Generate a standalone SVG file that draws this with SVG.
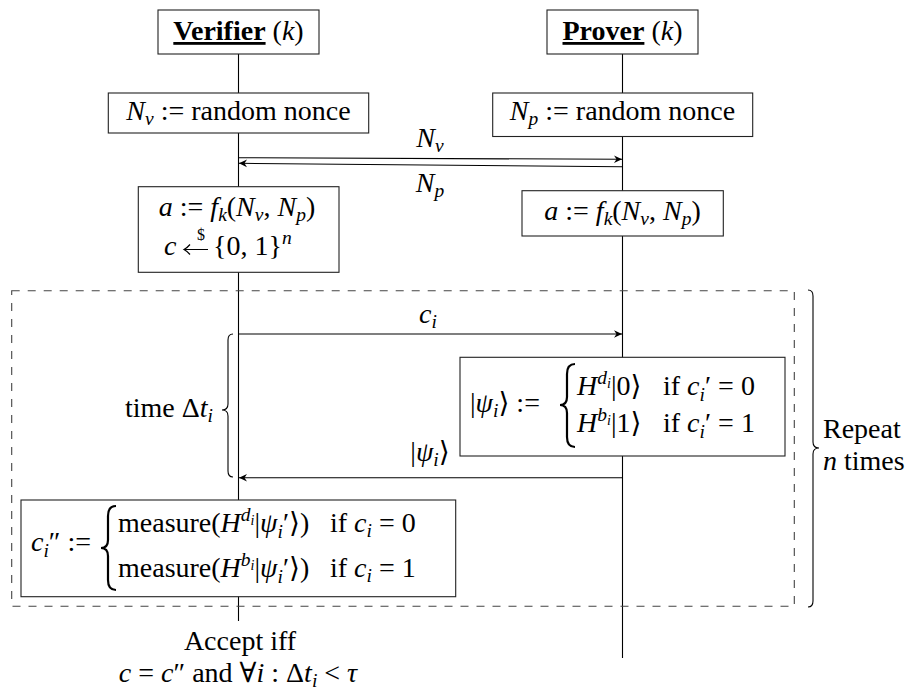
<svg xmlns="http://www.w3.org/2000/svg" width="922" height="692" viewBox="0 0 922 692" font-family="'Liberation Serif', 'DejaVu Serif', serif">
<style>
.t{font-family:'Liberation Serif','DejaVu Serif',serif;font-size:28px;fill:#000}
.i{font-style:italic}
.b{font-weight:bold}
.s{font-size:19.5px}
.ss{font-size:14px}
.box{fill:#fff;stroke:#222;stroke-width:1.1}
.life{stroke:#000;stroke-width:1.1;fill:none}
.msg{stroke:#000;stroke-width:1.1;fill:none;marker-end:url(#arr)}
.brace{fill:none;stroke:#000;stroke-width:1.1}
.cbrace{fill:none;stroke:#000;stroke-width:2.2}
.loop{fill:none;stroke:#444;stroke-width:1.1;stroke-dasharray:8 8}
</style>
<defs>
<marker id="arr" markerUnits="userSpaceOnUse" markerWidth="12" markerHeight="10" viewBox="-9 -5 10 10" refX="0" refY="0" orient="auto">
<path d="M0,0 L-8,-3.8 L-5.5,0 L-8,3.8 Z" fill="#000"/>
</marker>
</defs>
<rect width="922" height="692" fill="#fff"/>

<g id="connectors">
<line class="life" x1="238.5" y1="54" x2="238.5" y2="621"/>
<line class="life" x1="622.5" y1="54" x2="622.5" y2="658"/>
<line class="msg" x1="238.5" y1="157.7" x2="622" y2="159.3"/>
<line class="msg" x1="622.5" y1="166.7" x2="239" y2="163.3"/>
<line class="msg" x1="238.5" y1="334" x2="622" y2="334"/>
<line class="msg" x1="622.5" y1="477.7" x2="239" y2="477.7"/>
</g>

<g id="labels">
<text class="t" x="430" y="147" text-anchor="middle"><tspan class="i">N</tspan><tspan class="i s" dy="5">v</tspan></text>
<text class="t" x="430" y="192" text-anchor="middle"><tspan class="i">N</tspan><tspan class="i s" dy="5">p</tspan></text>
<text class="t" x="428" y="323" text-anchor="middle"><tspan class="i">c</tspan><tspan class="i s" dy="5">i</tspan></text>
<text class="t" x="430" y="461" text-anchor="middle">|<tspan class="i">ψ</tspan><tspan class="i s" dy="5">i</tspan><tspan dy="-5">⟩</tspan></text>
</g>

<g id="loop">
<rect class="loop" x="11.7" y="290.7" width="782.6" height="315.6"/>
</g>

<g id="verifier">
<rect class="box" x="158" y="10" width="161" height="44"/>
<text class="t" x="238.5" y="40" text-anchor="middle"><tspan class="b" text-decoration="underline">Verifier</tspan> (<tspan class="i">k</tspan>)</text>
</g>
<g id="prover">
<rect class="box" x="547" y="10" width="151" height="44"/>
<text class="t" x="622.5" y="40" text-anchor="middle"><tspan class="b" text-decoration="underline">Prover</tspan> (<tspan class="i">k</tspan>)</text>
</g>

<g id="nv">
<rect class="box" x="108.3" y="93" width="260.4" height="40"/>
<text class="t" x="238.5" y="120" text-anchor="middle"><tspan class="i">N</tspan><tspan class="i s" dy="5">v</tspan><tspan dy="-5"> := random nonce</tspan></text>
</g>
<g id="np">
<rect class="box" x="492.7" y="93" width="260" height="43.5"/>
<text class="t" x="622.5" y="120" text-anchor="middle"><tspan class="i">N</tspan><tspan class="i s" dy="5">p</tspan><tspan dy="-5"> := random nonce</tspan></text>
</g>

<g id="va">
<rect class="box" x="138.3" y="186.7" width="200.7" height="85.6"/>
<text class="t" x="237" y="216" text-anchor="middle"><tspan class="i">a</tspan> := <tspan class="i">f</tspan><tspan class="i s" dy="5">k</tspan><tspan dy="-5">(</tspan><tspan class="i">N</tspan><tspan class="i s" dy="5">v</tspan><tspan dy="-5">, </tspan><tspan class="i">N</tspan><tspan class="i s" dy="5">p</tspan><tspan dy="-5">)</tspan></text>
<text class="t i" x="164" y="255">c</text>
<path d="M208,249.5 L185,249.5 M190,244.5 Q187,248 184,249.5 Q187,251 190,254.5" fill="none" stroke="#000" stroke-width="1.2"/>
<text class="t" x="201" y="240" text-anchor="middle" style="font-size:16px">$</text>
<text class="t" y="255"><tspan x="213">{0, 1}</tspan><tspan class="i s" dy="-11">n</tspan></text>
</g>
<g id="pa">
<rect class="box" x="522" y="190.7" width="201.3" height="45.3"/>
<text class="t" x="622.5" y="220" text-anchor="middle"><tspan class="i">a</tspan> := <tspan class="i">f</tspan><tspan class="i s" dy="5">k</tspan><tspan dy="-5">(</tspan><tspan class="i">N</tspan><tspan class="i s" dy="5">v</tspan><tspan dy="-5">, </tspan><tspan class="i">N</tspan><tspan class="i s" dy="5">p</tspan><tspan dy="-5">)</tspan></text>
</g>

<g id="time">
<path class="brace" d="M233,334 Q228,334 228,340 L228,404 Q228,410 222,410 Q228,410 228,416 L228,471 Q228,477 233,477"/>
<text class="t" x="213" y="417" text-anchor="end">time Δ<tspan class="i">t</tspan><tspan class="i s" dy="5">i</tspan></text>
</g>

<g id="psi">
<rect class="box" x="460" y="357.3" width="325" height="98.7"/>
<text class="t" x="470" y="412">|<tspan class="i">ψ</tspan><tspan class="i s" dy="5">i</tspan><tspan dy="-5">⟩ :=</tspan></text>
<path class="cbrace" d="M575,364 Q567,364 567,374 L567,397 Q567,405 560,405 Q567,405 567,413 L567,437 Q567,447 575,447"/>
<text class="t" x="577" y="395"><tspan class="i">H</tspan><tspan class="i s" dy="-11">d</tspan><tspan class="i ss" dy="4">i</tspan><tspan dy="7">|0⟩</tspan></text>
<text class="t" x="663" y="395">if <tspan class="i">c</tspan><tspan class="i s" dy="6">i</tspan><tspan dy="-6">′ = 0</tspan></text>
<text class="t" x="577" y="432"><tspan class="i">H</tspan><tspan class="i s" dy="-11">b</tspan><tspan class="i ss" dy="4">i</tspan><tspan dy="7">|1⟩</tspan></text>
<text class="t" x="663" y="432">if <tspan class="i">c</tspan><tspan class="i s" dy="6">i</tspan><tspan dy="-6">′ = 1</tspan></text>
</g>

<g id="measure">
<rect class="box" x="21" y="500" width="434.7" height="96.7"/>
<text class="t" x="31" y="551"><tspan class="i">c</tspan><tspan class="i s" dy="6">i</tspan><tspan dy="-6">″ :=</tspan></text>
<path class="cbrace" d="M116,506 Q108,506 108,516 L108,540 Q108,548 101,548 Q108,548 108,556 L108,580 Q108,590 116,590"/>
<text class="t" x="118" y="532">measure(<tspan class="i">H</tspan><tspan class="i s" dy="-11">d</tspan><tspan class="i ss" dy="4">i</tspan><tspan dy="7">|</tspan><tspan class="i">ψ</tspan><tspan class="i s" dy="6">i</tspan><tspan dy="-6">′⟩)</tspan></text>
<text class="t" x="330" y="532">if <tspan class="i">c</tspan><tspan class="i s" dy="5">i</tspan><tspan dy="-5"> = 0</tspan></text>
<text class="t" x="118" y="577">measure(<tspan class="i">H</tspan><tspan class="i s" dy="-11">b</tspan><tspan class="i ss" dy="4">i</tspan><tspan dy="7">|</tspan><tspan class="i">ψ</tspan><tspan class="i s" dy="6">i</tspan><tspan dy="-6">′⟩)</tspan></text>
<text class="t" x="330" y="577">if <tspan class="i">c</tspan><tspan class="i s" dy="5">i</tspan><tspan dy="-5"> = 1</tspan></text>
</g>

<g id="repeat">
<path class="brace" d="M808,290 Q813,290 813,296 L813,442 Q813,448 819,448 Q813,448 813,454 L813,601 Q813,607 808,607"/>
<text class="t" x="823" y="438">Repeat</text>
<text class="t" x="823" y="470"><tspan class="i">n</tspan> times</text>
</g>

<g id="accept">
<text class="t" x="240" y="650" text-anchor="middle">Accept iff</text>
<text class="t" x="238" y="682" text-anchor="middle"><tspan class="i">c</tspan> = <tspan class="i">c</tspan>″ and ∀<tspan class="i">i</tspan> : Δ<tspan class="i">t</tspan><tspan class="i s" dy="5">i</tspan><tspan dy="-5"> &lt; </tspan><tspan class="i">τ</tspan></text>
</g>
</svg>
